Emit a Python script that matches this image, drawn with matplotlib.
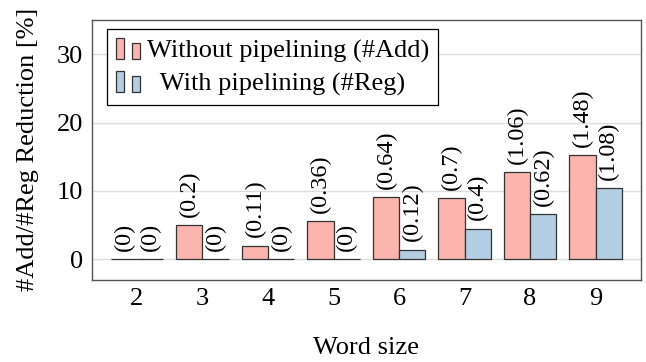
import numpy as np
import matplotlib
matplotlib.use('Agg')
import matplotlib.pyplot as plt
from matplotlib.patches import Rectangle

plt.rcParams['font.family'] = ['Liberation Serif', 'DejaVu Serif']

word_sizes = [2, 3, 4, 5, 6, 7, 8, 9]
# reduction in percent
add_reduction = [0, 5.0, 2.0, 5.6, 9.1, 8.9, 12.7, 15.2]
reg_reduction = [0, 0, 0, 0, 1.4, 4.5, 6.6, 10.4]
# absolute numbers shown above the bars
add_labels = ['(0)', '(0.2)', '(0.11)', '(0.36)', '(0.64)', '(0.7)', '(1.06)', '(1.48)']
reg_labels = ['(0)', '(0)', '(0)', '(0)', '(0.12)', '(0.4)', '(0.62)', '(1.08)']

RED = '#fbb4ae'
BLUE = '#b3cde3'
EDGE = '#333333'
width = 0.4


class BarPairHandler:
    """Legend symbol made of two small bars of unequal height."""
    def legend_artist(self, legend, orig_handle, fontsize, handlebox):
        x0, y0 = -handlebox.xdescent, -handlebox.ydescent
        w, h = handlebox.width, handlebox.height
        bw = w / 3
        color = orig_handle.get_facecolor()
        r1 = Rectangle((x0, y0), bw, h, facecolor=color, edgecolor=EDGE,
                       linewidth=0.9, transform=handlebox.get_transform())
        r2 = Rectangle((x0 + 2 * bw, y0), bw, h * 0.77, facecolor=color,
                       edgecolor=EDGE, linewidth=0.9,
                       transform=handlebox.get_transform())
        handlebox.add_artist(r1)
        handlebox.add_artist(r2)
        return r1


fig = plt.figure(figsize=(6.46, 3.62), dpi=100)
ax = fig.add_axes([0.142, 0.227, 0.85, 0.718])

x = np.array(word_sizes)
bars_add = ax.bar(x - width / 2, add_reduction, width, color=RED, edgecolor=EDGE,
                  linewidth=0.9, zorder=3)
bars_reg = ax.bar(x + width / 2, reg_reduction, width, color=BLUE, edgecolor=EDGE,
                  linewidth=0.9, zorder=3)

for bars, labels in [(bars_add, add_labels), (bars_reg, reg_labels)]:
    for b, lab in zip(bars, labels):
        ax.annotate(lab, (b.get_x() + b.get_width() / 2, b.get_height()),
                    xytext=(0, 6), textcoords='offset points', rotation=90,
                    ha='center', va='bottom', fontsize=17.5, zorder=4)

ax.set_xlim(1.31, 9.69)
ax.set_ylim(-3, 35)
ax.set_yticks([0, 10, 20, 30])
ax.set_xticks(word_sizes)
ax.tick_params(length=0, labelsize=19, pad=6)
ax.grid(axis='y', color='#dddddd', linewidth=1.0, zorder=0)
for s in ax.spines.values():
    s.set_color('#555555')
    s.set_linewidth(1.0)

ax.set_xlabel('Word size', fontsize=19, labelpad=19)
ax.set_ylabel('#Add/#Reg Reduction [%]', fontsize=19, labelpad=13)

h_add = Rectangle((0, 0), 1, 1, facecolor=RED)
h_reg = Rectangle((0, 0), 1, 1, facecolor=BLUE)
leg = ax.legend([h_add, h_reg],
                ['Without pipelining (#Add)', '  With pipelining (#Reg)'],
                handler_map={Rectangle: BarPairHandler()},
                loc='upper left', bbox_to_anchor=(0.028, 0.965), fontsize=19,
                frameon=True, fancybox=False, edgecolor='black', framealpha=1,
                handlelength=0.91, handleheight=0.83, handletextpad=0.27,
                borderpad=0.34, labelspacing=0.3, borderaxespad=0)
leg.get_frame().set_linewidth(0.9)

fig.savefig('out.png', dpi=100)
